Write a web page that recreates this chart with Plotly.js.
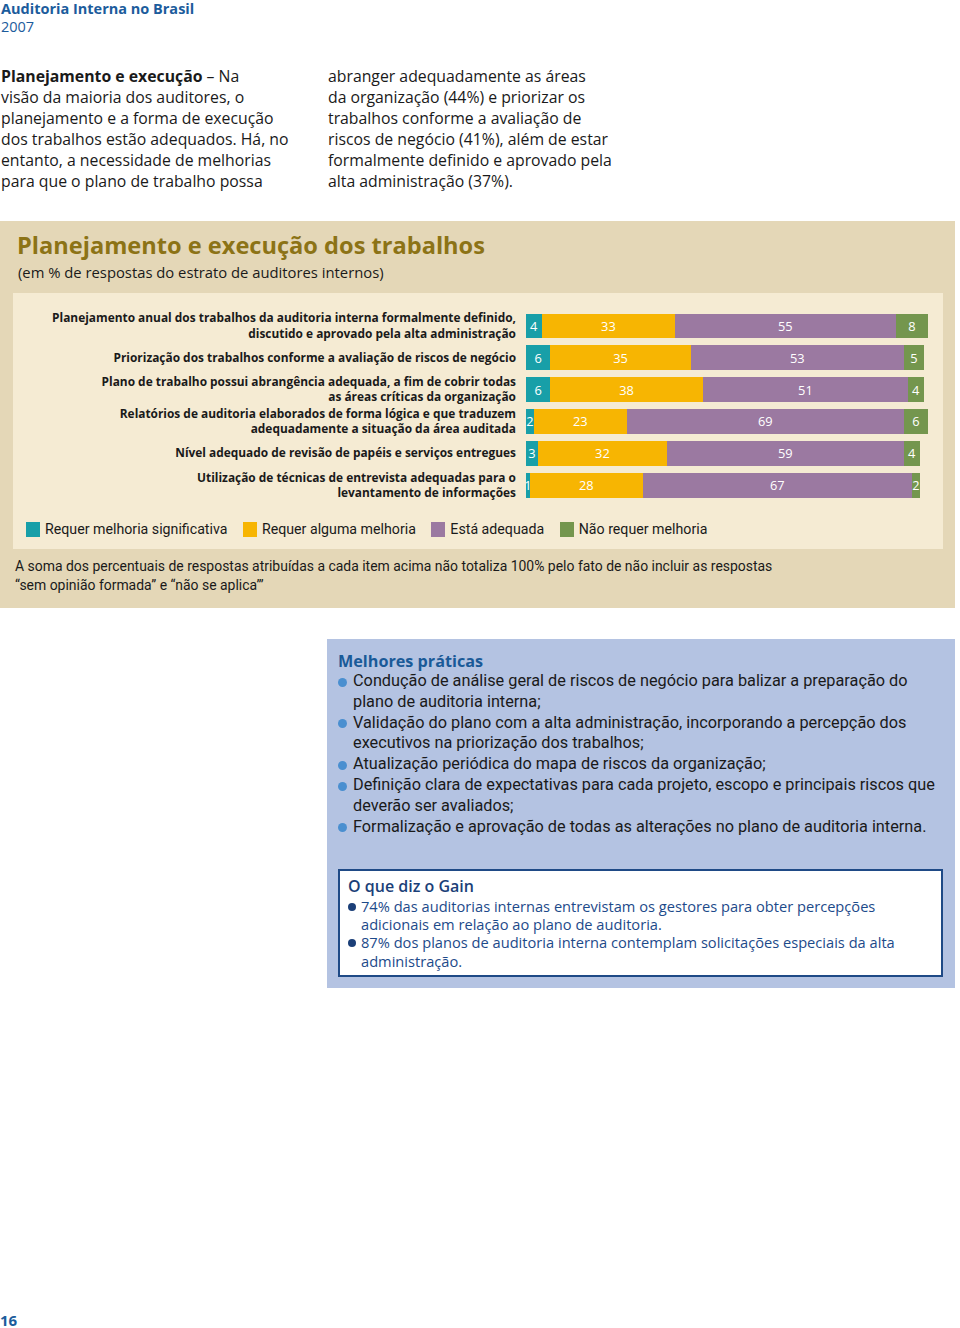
<!DOCTYPE html>
<html>
<head>
<meta charset="utf-8">
<script src="https://cdn.plot.ly/plotly-3.0.1.min.js"></script>
<style>
  html, body { margin:0; padding:0; background:#ffffff; }
  body { width:960px; height:1328px; position:relative; overflow:hidden; font-family:"Open Sans", sans-serif; color:#1a1a1a; }
  .abs { position:absolute; white-space:nowrap; }
  #hdr1 { left:1px; top:-1px; font-size:14.5px; font-weight:700; color:#1c5c9c; }
  #hdr2 { left:1px; top:17px; font-size:14.5px; color:#1c5c9c; }
  .para { font-size:15.8px; line-height:20.9px; color:#1a1a1a; }
  #outer { left:0; top:221px; width:955px; height:387px; background:#e4d7b7; }
  #inner { left:13px; top:293px; width:930px; height:256px; background:#f5ebd3; }
  #ctitle { left:17px; top:229px; font-size:23.6px; font-weight:700; color:#8c7316; }
  #csub { left:18px; top:262px; font-size:14.8px; color:#1a1a1a; }
  #chart { left:13px; top:293px; width:930px; height:256px; }
  #legend { left:26px; top:520px; font-family:Roboto, sans-serif; font-size:14.2px; color:#1a1a1a; }
  .li { display:inline-block; margin-right:15.5px; vertical-align:middle; }
  .sw { display:inline-block; width:14px; height:15px; vertical-align:-3px; margin-right:5px; }
  #note { left:15px; top:557px; font-family:Roboto, sans-serif; font-size:13.95px; line-height:19px; color:#1a1a1a; }
  #mp { left:327px; top:639px; width:628px; height:349px; background:#b4c3e2; }
  #mptitle { left:338px; top:650px; font-size:16.2px; font-weight:700; color:#1a5a98; }
  .mpl { font-family:Roboto, sans-serif; font-size:16.3px; line-height:20.8px; color:#1a1a1a; }
  .bul { position:absolute; width:9px; height:9px; border-radius:50%; background:#4a8fd0; }
  #gain { left:338px; top:869px; width:601px; height:104px; background:#ffffff; border:2px solid #1f4a86; }
  #gtitle { left:348px; top:878px; font-size:16px; line-height:17px; font-weight:600; color:#1b3f78; }
  .gl { font-size:14.65px; line-height:18.3px; color:#1d4a8a; }
  .gbul { position:absolute; width:8px; height:8px; border-radius:50%; background:#1b3f78; }
  #pnum { left:0px; top:1310px; font-size:15px; font-weight:700; color:#1c5c9c; }
</style>
</head>
<body>
<div class="abs" id="hdr1">Auditoria Interna no Brasil</div>
<div class="abs" id="hdr2">2007</div>

<div class="abs para" style="left:1px; top:66px;"><b>Planejamento e execução</b> – Na<br>visão da maioria dos auditores, o<br>planejamento e a forma de execução<br>dos trabalhos estão adequados. Há, no<br>entanto, a necessidade de melhorias<br>para que o plano de trabalho possa</div>
<div class="abs para" style="left:328px; top:66px;">abranger adequadamente as áreas<br>da organização (44%) e priorizar os<br>trabalhos conforme a avaliação de<br>riscos de negócio (41%), além de estar<br>formalmente definido e aprovado pela<br>alta administração (37%).</div>

<div class="abs" id="outer"></div>
<div class="abs" id="inner"></div>
<div class="abs" id="ctitle">Planejamento e execução dos trabalhos</div>
<div class="abs" id="csub">(em % de respostas do estrato de auditores internos)</div>
<div class="abs" id="chart"></div>
<div class="abs" id="legend"></div>
<div class="abs" id="note">A soma dos percentuais de respostas atribuídas a cada item acima não totaliza 100% pelo fato de não incluir as respostas<br>“sem opinião formada” e “não se aplica”’</div>

<div class="abs" id="mp"></div>
<div class="abs" id="mptitle">Melhores práticas</div>
<div id="mplist"></div>

<div class="abs" id="gain"></div>
<div class="abs" id="gtitle">O que diz o Gain</div>
<div id="glist"></div>

<div class="abs" id="pnum">16</div>

<script>
// ---- Data ----
const categories = [
  "Planejamento anual dos trabalhos da auditoria interna formalmente definido,<br>discutido e aprovado pela alta administração",
  "Priorização dos trabalhos conforme a avaliação de riscos de negócio",
  "Plano de trabalho possui abrangência adequada, a fim de cobrir todas<br>as áreas críticas da organização",
  "Relatórios de auditoria elaborados de forma lógica e que traduzem<br>adequadamente a situação da área auditada",
  "Nível adequado de revisão de papéis e serviços entregues",
  "Utilização de técnicas de entrevista adequadas para o<br>levantamento de informações"
];
const requerMelhoriaSignificativa = [4, 6, 6, 2, 3, 1];
const requerAlgumaMelhoria = [33, 35, 38, 23, 32, 28];
const estaAdequada = [55, 53, 51, 69, 59, 67];
const naoRequerMelhoria = [8, 5, 4, 6, 4, 2];
const seriesNames = ["Requer melhoria significativa", "Requer alguma melhoria", "Está adequada", "Não requer melhoria"];
const seriesColors = ["#189fa8", "#f7b502", "#9b79a1", "#74964e"];

const melhoresPraticas = [
  ["Condução de análise geral de riscos de negócio para balizar a preparação do", "plano de auditoria interna;"],
  ["Validação do plano com a alta administração, incorporando a percepção dos", "executivos na priorização dos trabalhos;"],
  ["Atualização periódica do mapa de riscos da organização;"],
  ["Definição clara de expectativas para cada projeto, escopo e principais riscos que", "deverão ser avaliados;"],
  ["Formalização e aprovação de todas as alterações no plano de auditoria interna."]
];
const gainItems = [
  ["74% das auditorias internas entrevistam os gestores para obter percepções", "adicionais em relação ao plano de auditoria."],
  ["87% dos planos de auditoria interna contemplam solicitações especiais da alta", "administração."]
];

// ---- Chart ----
const allSeries = [requerMelhoriaSignificativa, requerAlgumaMelhoria, estaAdequada, naoRequerMelhoria];
const traces = allSeries.map((vals, i) => ({
  type: "bar",
  orientation: "h",
  name: seriesNames[i],
  y: categories,
  x: vals,
  marker: { color: seriesColors[i], line: { width: 0 } },
  texttemplate: "%{x}",
  textposition: "inside",
  insidetextanchor: "middle",
  constraintext: "none",
  textangle: 0,
  textfont: { family: "Open Sans, sans-serif", size: 12.8, color: "#ffffff" },
  hoverinfo: "skip"
}));

const layout = {
  width: 930, height: 256,
  margin: { l: 513, r: 15, t: 16.5, b: 47.5, pad: 0 },
  paper_bgcolor: "rgba(0,0,0,0)",
  plot_bgcolor: "rgba(0,0,0,0)",
  barmode: "stack",
  bargap: 0.22,
  showlegend: false,
  xaxis: { range: [0, 100], visible: false, fixedrange: true },
  yaxis: {
    type: "category",
    autorange: "reversed",
    showgrid: false, zeroline: false, showline: false,
    ticks: "",
    ticklabelstandoff: 9,
    tickfont: { family: "Open Sans, sans-serif", size: 11.9, color: "#1a1a1a", weight: 700 }
  }
};
Plotly.newPlot("chart", traces, layout, { staticPlot: true, displayModeBar: false });

// ---- Legend (HTML) ----
const leg = document.getElementById("legend");
seriesNames.forEach((n, i) => {
  const s = document.createElement("span");
  s.className = "li";
  s.innerHTML = '<span class="sw" style="background:' + seriesColors[i] + '"></span>' + n;
  leg.appendChild(s);
});

// ---- Melhores práticas list ----
(function () {
  const wrap = document.getElementById("mplist");
  let y = 671;
  const lh = 20.8;
  melhoresPraticas.forEach(lines => {
    const b = document.createElement("div");
    b.className = "bul";
    b.style.left = "338px";
    b.style.top = (y + 6.5) + "px";
    wrap.appendChild(b);
    const t = document.createElement("div");
    t.className = "abs mpl";
    t.style.left = "353px";
    t.style.top = y + "px";
    t.innerHTML = lines.join("<br>");
    wrap.appendChild(t);
    y += lh * lines.length;
  });
})();

// ---- Gain list ----
(function () {
  const wrap = document.getElementById("glist");
  let y = 897;
  const lh = 18.2;
  gainItems.forEach(lines => {
    const b = document.createElement("div");
    b.className = "gbul";
    b.style.left = "348px";
    b.style.top = (y + 6) + "px";
    wrap.appendChild(b);
    const t = document.createElement("div");
    t.className = "abs gl";
    t.style.left = "361px";
    t.style.top = y + "px";
    t.innerHTML = lines.join("<br>");
    wrap.appendChild(t);
    y += lh * lines.length;
  });
})();
</script>
</body>
</html>
